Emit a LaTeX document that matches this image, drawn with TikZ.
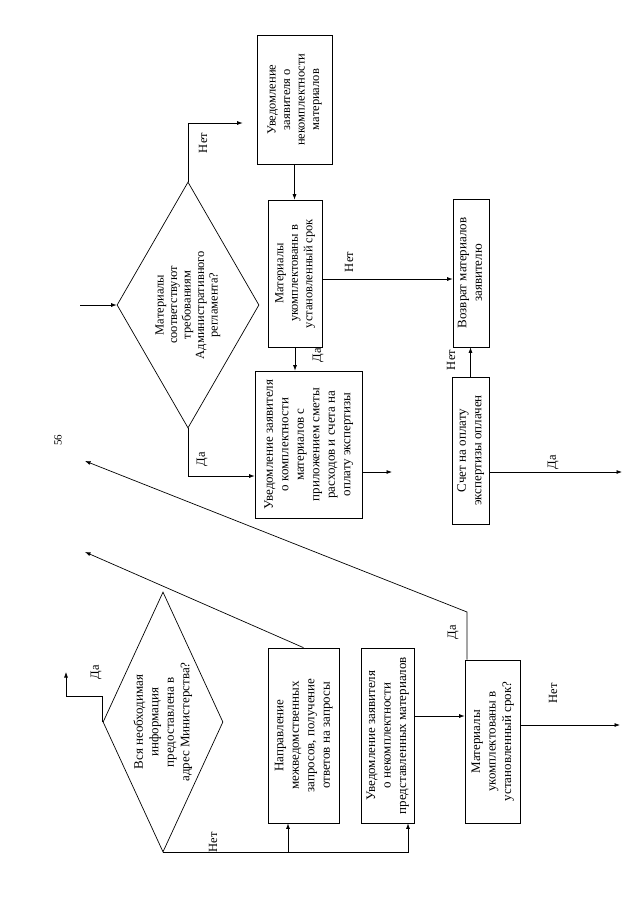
\documentclass[tikz,border=0pt]{standalone}
\usepackage{fontspec}
\setmainfont{Liberation Serif}
\usepackage{graphicx}
\usepackage{tikz}
\usetikzlibrary{arrows.meta,shapes.geometric,calc}

\newcommand{\vtxt}[1]{\rotatebox{90}{\begin{tabular}{@{}c@{}}#1\end{tabular}}}

\begin{document}
\begin{tikzpicture}[
  x=1pt, y=-1pt,
  box/.style={draw, line width=0.7pt, align=center, inner sep=0pt},
  check/.style={draw, diamond, line width=0.7pt, inner sep=0pt},
  big/.style={font=\fontsize{13}{15.5}\selectfont},
  mid/.style={font=\fontsize{12.5}{14.5}\selectfont},
  small/.style={font=\fontsize{12.5}{13.5}\selectfont},
  lbl/.style={rotate=90, inner sep=0pt, font=\fontsize{12.5}{14}\selectfont},
  arrow/.style={-{Latex[length=5.5pt,width=4pt]}, line width=0.7pt},
  line/.style={line width=0.7pt}
]
\useasboundingbox (0,0) rectangle (640,905);

\node[lbl, font=\fontsize{11}{13}\selectfont] (pagenum) at (58,440) {56};

\node[check, small, minimum width=142pt, minimum height=246pt, aspect=0.577] (reqcheck) at (188,305)
  {\vtxt{Материалы\\соответствуют\\требованиям\\Административного\\регламента?}};
\node[box, mid, minimum width=75pt, minimum height=129pt] (notifyinc) at (294.5,99.5)
  {\vtxt{Уведомление\\заявителя о\\некомплектности\\материалов}};
\node[box, mid, minimum width=54pt, minimum height=147pt] (complete) at (295,273.5)
  {\vtxt{Материалы\\укомплектованы в\\установленный срок}};
\node[box, big, minimum width=36pt, minimum height=148pt] (giveback) at (471,273)
  {\vtxt{Возврат материалов\\заявителю}};
\node[box, big, minimum width=107pt, minimum height=147pt] (notifyok) at (308.5,444.5)
  {\vtxt{Уведомление заявителя\\о комплектности\\материалов с\\приложением сметы\\расходов и счета на\\оплату экспертизы}};
\node[box, big, minimum width=37pt, minimum height=147pt] (paid) at (470.5,450.5)
  {\vtxt{Счет на оплату\\экспертизы оплачен}};

\node[check, big, minimum width=120pt, minimum height=260pt, aspect=0.46] (infocheck) at (163,722)
  {\vtxt{Вся необходимая\\информация\\предоставлена в\\адрес Министерства?}};
\node[box, big, minimum width=71pt, minimum height=175pt] (requests) at (303.5,735.5)
  {\vtxt{Направление\\межведомственных\\запросов, получение\\ответов на запросы}};
\node[box, big, minimum width=53pt, minimum height=175pt] (notifypart) at (387.5,735.5)
  {\vtxt{Уведомление заявителя\\о некомплектности\\представленных материалов}};
\node[box, big, minimum width=55pt, minimum height=163pt] (completeq) at (492.5,741.5)
  {\vtxt{Материалы\\укомплектованы в\\установленный срок?}};

\coordinate (reqin) at (80,305);
\coordinate (reqno) at (188,123);
\coordinate (okout) at (392,472);
\coordinate (paidyes) at (622,472);
\coordinate (infoyes) at (66,672);
\coordinate (compno) at (620,725);
\coordinate (compyes) at (85,461);
\coordinate (reqout) at (85,552);

\draw[arrow] (reqin |- reqcheck.west) -- (reqcheck.west);
\draw[arrow, shorten >=14pt] (reqcheck.north) -- (reqno) -- (notifyinc.west |- reqno);
\draw[arrow] (reqcheck.south) |- (notifyok.west |- 0,476);
\draw[arrow] (notifyinc.south) -- (notifyinc.south |- complete.north);
\draw[arrow] ($(complete.east)+(0,5.5)$) -- ($(complete.east -| giveback.west)+(0,5.5)$);
\draw[arrow] (complete.south) -- (complete.south |- notifyok.north);
\draw[arrow] (notifyok.east |- okout) -- (okout);
\draw[arrow] (paid.north) -- (paid.north |- giveback.south);
\draw[arrow] (paid.east |- paidyes) -- (paidyes);

\draw[arrow] (infocheck.west) -- ++(0,-26) -| (infoyes);
\draw[arrow] (infocheck.south) -| (notifypart.south -| 408,0);
\draw[arrow] (infocheck.south -| 288,0) -- (requests.south -| 288,0);
\draw[arrow] (notifypart.east |- 0,716) -- (completeq.west |- 0,716);
\draw[arrow] (completeq.east |- compno) -- (compno);
\draw[arrow] (completeq.north -| 467,0) -- (467,612) -- (compyes);
\draw[arrow] (requests.north) -- (reqout);

\node[lbl] (lreqno) at (203,143) {Нет};
\node[lbl] (lreqyes) at (202,459) {Да};
\node[lbl] (lcompno) at (349,262) {Нет};
\node[lbl] (lcompyes) at (318,355) {Да};
\node[lbl] (lpaidno) at (451,360) {Нет};
\node[lbl] (lpaidyes) at (553,462) {Да};
\node[lbl] (linfoyes) at (96,672) {Да};
\node[lbl] (linfono) at (213,842) {Нет};
\node[lbl] (lcompqyes) at (453,632) {Да};
\node[lbl] (lcompqno) at (553,693) {Нет};
\end{tikzpicture}
\end{document}
